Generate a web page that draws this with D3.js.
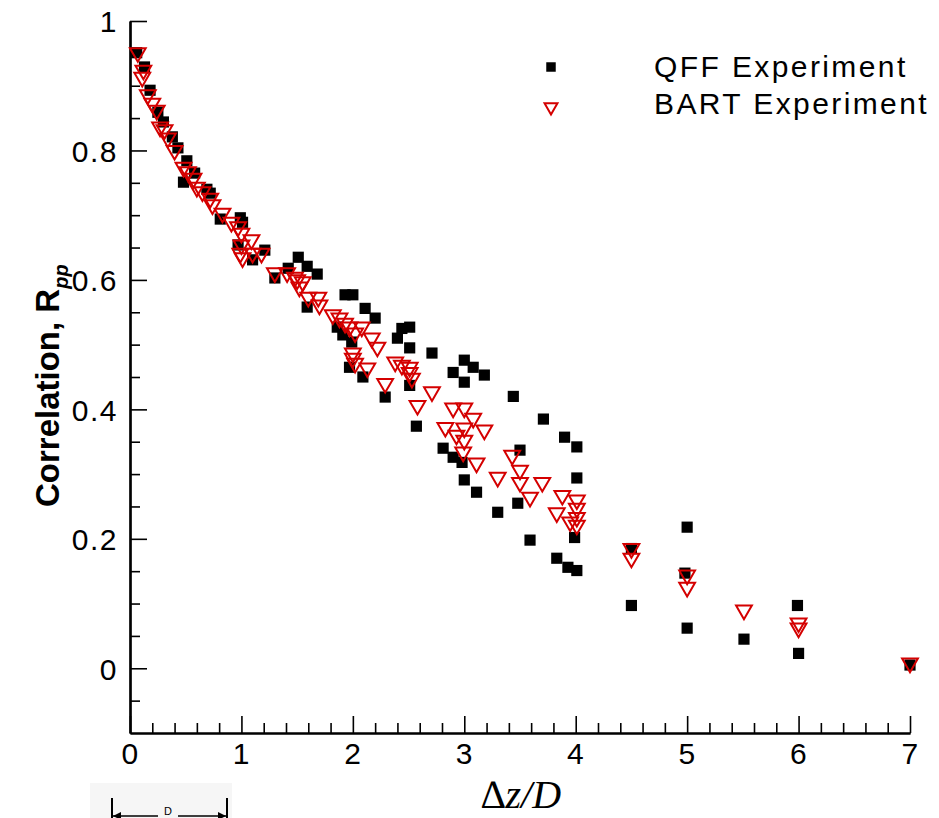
<!DOCTYPE html>
<html>
<head>
<meta charset="utf-8">
<script src="https://cdn.jsdelivr.net/npm/d3@7"></script>
<style>
  html, body { margin: 0; padding: 0; background: #fff; }
  svg { display: block; }
  .tick text { font-family: "Liberation Sans", Arial, Helvetica, sans-serif; }
</style>
</head>
<body>
<svg id="chart" width="939" height="818"></svg>
<script>
// QFF experiment: separation Δz/D and correlation R_pp
const qffDz = [0.06, 0.13, 0.18, 0.25, 0.30, 0.38, 0.43, 0.51, 0.48, 0.58, 0.69, 0.72, 0.81, 0.99, 1.01, 0.97,
  1.10, 1.21, 1.30, 1.42, 1.51, 1.59, 1.68, 1.59, 1.86, 1.91, 1.99, 1.93, 2.00, 2.11, 2.20, 1.97, 2.09, 2.29,
  2.44, 2.51, 2.40, 2.51, 2.51, 2.57, 2.71, 3.00, 3.08, 2.90, 3.18, 3.00, 3.44, 3.71, 3.90, 4.01, 4.01, 2.81,
  2.90, 2.98, 3.50, 3.00, 3.11, 3.30, 3.48, 3.59, 3.99, 3.83, 3.93, 4.01, 5.00, 4.50, 4.98, 4.50, 5.00, 5.51,
  5.99, 6.00, 7.00];
const qffR = [0.951, 0.929, 0.893, 0.859, 0.844, 0.821, 0.804, 0.784, 0.751, 0.765, 0.740, 0.734, 0.694, 0.696,
  0.689, 0.654, 0.631, 0.646, 0.603, 0.618, 0.635, 0.621, 0.609, 0.558, 0.527, 0.515, 0.504, 0.577, 0.577, 0.556,
  0.541, 0.465, 0.450, 0.419, 0.525, 0.527, 0.510, 0.495, 0.437, 0.374, 0.487, 0.476, 0.465, 0.457, 0.453, 0.442,
  0.420, 0.385, 0.357, 0.342, 0.294, 0.340, 0.326, 0.318, 0.337, 0.291, 0.272, 0.241, 0.255, 0.198, 0.202, 0.170,
  0.156, 0.151, 0.218, 0.185, 0.147, 0.097, 0.062, 0.045, 0.097, 0.023, 0.005];

// BART experiment
const bartDz = [0.07, 0.12, 0.11, 0.16, 0.20, 0.24, 0.27, 0.31, 0.34, 0.40, 0.48, 0.52, 0.57, 0.60, 0.65, 0.72,
  0.74, 0.83, 0.91, 0.97, 1.00, 1.09, 1.00, 0.99, 1.01, 1.10, 1.18, 1.30, 1.41, 1.50, 1.52, 1.60, 1.69, 1.70,
  1.82, 1.48, 1.55, 1.88, 1.93, 1.97, 2.02, 2.08, 2.17, 2.22, 2.00, 2.00, 2.02, 2.13, 2.38, 2.44, 2.51, 2.51,
  2.53, 2.29, 2.58, 2.71, 2.90, 3.00, 3.08, 2.83, 2.93, 3.00, 3.00, 3.18, 2.99, 3.11, 3.30, 3.43, 3.50, 3.50,
  3.59, 3.70, 3.88, 4.01, 3.83, 4.01, 4.01, 3.95, 4.01, 4.50, 4.50, 5.00, 5.00, 5.51, 6.00, 6.00, 7.00];
const bartR = [0.951, 0.924, 0.913, 0.886, 0.873, 0.862, 0.836, 0.832, 0.819, 0.800, 0.774, 0.767, 0.757, 0.743,
  0.736, 0.726, 0.716, 0.703, 0.689, 0.682, 0.672, 0.662, 0.654, 0.641, 0.634, 0.641, 0.641, 0.611, 0.611, 0.600,
  0.589, 0.573, 0.573, 0.561, 0.546, 0.604, 0.597, 0.541, 0.533, 0.527, 0.518, 0.527, 0.510, 0.496, 0.487, 0.479,
  0.471, 0.464, 0.473, 0.468, 0.465, 0.457, 0.448, 0.440, 0.406, 0.427, 0.402, 0.402, 0.386, 0.372, 0.360, 0.371,
  0.352, 0.368, 0.334, 0.317, 0.295, 0.329, 0.306, 0.287, 0.264, 0.287, 0.267, 0.260, 0.240, 0.247, 0.233, 0.226,
  0.221, 0.185, 0.170, 0.144, 0.125, 0.090, 0.070, 0.062, 0.008];

const seriesNames = ["QFF Experiment", "BART Experiment"];
const xMajorTicks = [0, 1, 2, 3, 4, 5, 6, 7];
const xMinorTicks = [0.2, 0.4, 0.6, 0.8, 1.2, 1.4, 1.6, 1.8, 2.2, 2.4, 2.6, 2.8, 3.2, 3.4, 3.6, 3.8,
  4.2, 4.4, 4.6, 4.8, 5.2, 5.4, 5.6, 5.8, 6.2, 6.4, 6.6, 6.8];
const yMajorTicks = [0, 0.2, 0.4, 0.6, 0.8, 1];
const yMajorLabels = ["0", "0.2", "0.4", "0.6", "0.8", "1"];
const yMinorTicks = [-0.05, 0.05, 0.1, 0.15, 0.25, 0.3, 0.35, 0.45, 0.5, 0.55, 0.65, 0.7, 0.75, 0.85, 0.9, 0.95];

const RED = "#d40000";
const svg = d3.select("#chart");

const x = d3.scaleLinear().domain([0, 7]).range([130, 910]);
const y = d3.scaleLinear().domain([-0.1, 1]).range([733, 21]);

// small reference bracket below the axis, lower left
const note = svg.append("g");
note.append("rect").attr("x", 90).attr("y", 783).attr("width", 142).attr("height", 35).attr("fill", "#f6f6f6");
note.append("line").attr("x1", 112).attr("x2", 112).attr("y1", 798).attr("y2", 818).attr("stroke", "#000").attr("stroke-width", 2);
note.append("line").attr("x1", 227).attr("x2", 227).attr("y1", 798).attr("y2", 818).attr("stroke", "#000").attr("stroke-width", 2);
note.append("line").attr("x1", 113).attr("x2", 158).attr("y1", 816).attr("y2", 816).attr("stroke", "#000").attr("stroke-width", 1.5);
note.append("line").attr("x1", 178).attr("x2", 226).attr("y1", 816).attr("y2", 816).attr("stroke", "#000").attr("stroke-width", 1.5);
note.append("path").attr("d", "M113,816 L121,812 L121,820 Z").attr("fill", "#000");
note.append("path").attr("d", "M226,816 L218,812 L218,820 Z").attr("fill", "#000");
note.append("text").attr("x", 168).attr("y", 815).attr("text-anchor", "middle")
  .attr("font-family", "Liberation Sans, Arial, sans-serif").attr("font-size", 11).text("D");

// axes: ticks point into the plot
const fmt = d => yMajorLabels[yMajorTicks.indexOf(d)];
const gx = svg.append("g").attr("transform", "translate(0,733)")
  .call(d3.axisBottom(x).tickValues(xMajorTicks).tickSizeInner(-17).tickSizeOuter(0).tickPadding(10).tickFormat(d3.format("d")));
const gxm = svg.append("g").attr("transform", "translate(0,733)")
  .call(d3.axisBottom(x).tickValues(xMinorTicks).tickSizeInner(-10).tickSizeOuter(0).tickFormat(""));
const gy = svg.append("g").attr("transform", "translate(130,0)")
  .call(d3.axisLeft(y).tickValues(yMajorTicks).tickSizeInner(-17).tickSizeOuter(0).tickPadding(12).tickFormat(fmt));
const gym = svg.append("g").attr("transform", "translate(130,0)")
  .call(d3.axisLeft(y).tickValues(yMinorTicks).tickSizeInner(-10).tickSizeOuter(0).tickFormat(""));

[gx, gxm, gy, gym].forEach(g => {
  g.select(".domain").attr("stroke", "#000").attr("stroke-width", 2.2);
  g.selectAll(".tick line").attr("stroke", "#000").attr("stroke-width", 1.6);
  g.selectAll(".tick text").attr("fill", "#000").attr("font-size", 30).attr("letter-spacing", 1.5);
});
gx.selectAll(".tick text").attr("dy", "0.71em");
gy.selectAll(".tick text").attr("dy", "0.36em");

// axis titles
svg.append("text")
  .attr("transform", "translate(59,507) rotate(-90)")
  .attr("font-family", "Liberation Sans, Arial, sans-serif").attr("font-weight", "bold").attr("font-size", 33)
  .attr("fill", "#000")
  .text("Correlation, R")
  .append("tspan").attr("font-size", 20).attr("font-style", "italic").attr("dy", 9).text("pp");

const xt = svg.append("text").attr("x", 521).attr("y", 808).attr("text-anchor", "middle")
  .attr("font-family", "Liberation Serif, 'Times New Roman', serif").attr("font-size", 40).attr("fill", "#000");
xt.append("tspan").attr("font-style", "normal").text("\u2206");
xt.append("tspan").attr("font-style", "italic").text("z/D");

// markers
const squarePath = d3.symbol(d3.symbolSquare, 125)();
const triPath = d3.symbol(d3.symbolTriangle, 108)();

const qff = qffDz.map((d, i) => ({ dz: d, r: qffR[i] }));
const bart = bartDz.map((d, i) => ({ dz: d, r: bartR[i] }));

svg.append("g").selectAll("path").data(qff).join("path")
  .attr("d", squarePath)
  .attr("transform", d => `translate(${x(d.dz)},${y(d.r)})`)
  .attr("fill", "#000");

svg.append("g").selectAll("path").data(bart).join("path")
  .attr("d", triPath)
  .attr("transform", d => `translate(${x(d.dz)},${y(d.r)}) rotate(180)`)
  .attr("fill", "none").attr("stroke", RED).attr("stroke-width", 2);

// legend
const leg = svg.append("g");
leg.append("path").attr("d", d3.symbol(d3.symbolSquare, 90)()).attr("transform", "translate(551,67)").attr("fill", "#000");
leg.append("path").attr("d", d3.symbol(d3.symbolTriangle, 72)()).attr("transform", "translate(551,107) rotate(180)")
  .attr("fill", "none").attr("stroke", RED).attr("stroke-width", 2);
leg.selectAll("text").data(seriesNames).join("text")
  .attr("x", 654).attr("y", (d, i) => 77 + i * 37)
  .attr("font-family", "Liberation Sans, Arial, sans-serif").attr("font-size", 30).attr("letter-spacing", 2.4)
  .attr("fill", "#000").text(d => d);
</script>
</body>
</html>
